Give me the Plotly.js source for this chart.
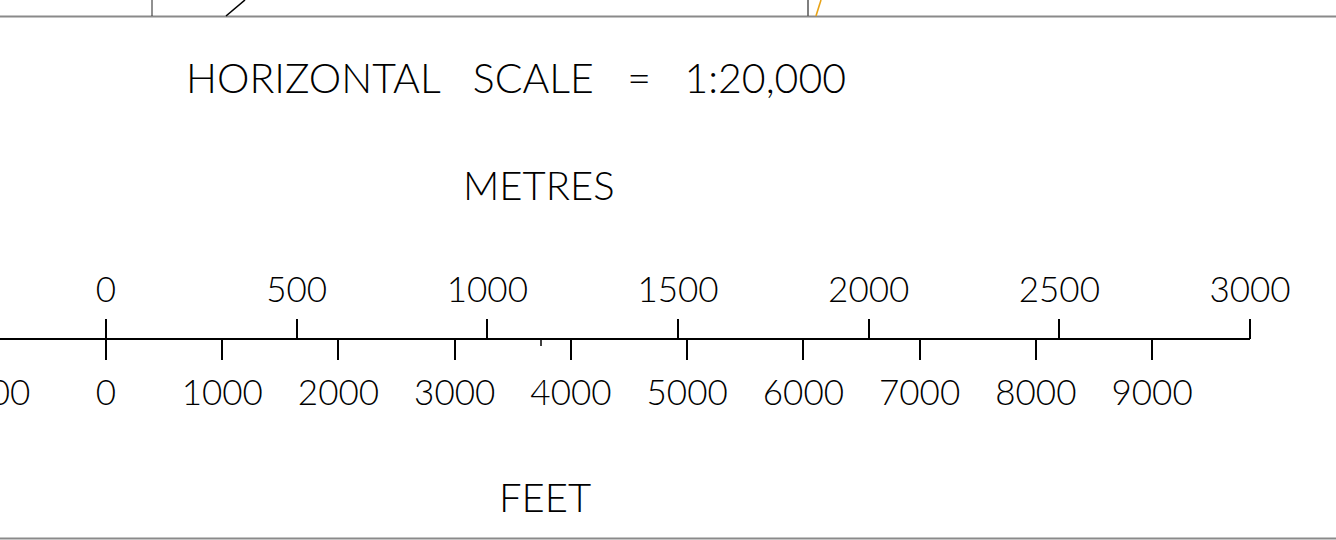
<!DOCTYPE html>
<html>
<head>
<meta charset="utf-8">
<script src="https://cdn.plot.ly/plotly-3.0.1.min.js"></script>
<style>
html,body{margin:0;padding:0;background:#fff;overflow:hidden;width:1336px;height:540px;}
#wrap{position:absolute;left:-100px;top:0;}
#chart{width:1436px;height:540px;}
</style>
</head>
<body>
<div id="wrap"><div id="chart"></div></div>
<script>
// ---- data ----
const metreTicks = [0, 500, 1000, 1500, 2000, 2500, 3000];
const metreLabels = ["0", "500", "1000", "1500", "2000", "2500", "3000"];
const feetTicks = [-1000, 0, 1000, 2000, 3000, 4000, 5000, 6000, 7000, 8000, 9000];
const feetLabels = ["1000", "0", "1000", "2000", "3000", "4000", "5000", "6000", "7000", "8000", "9000"];
const scaleMax = [3000];            // metres at right end of the bar
const metresPerFoot = 0.3048;
const titleText = "HORIZONTAL&nbsp;&nbsp;&nbsp;SCALE&nbsp;&nbsp;&nbsp;=&nbsp;&nbsp;&nbsp;1:20,000";
const unitTop = "METRES";
const unitBottom = "FEET";

// ---- layout helpers ----
const SHIFT = 100, PLOTW = 1350, H = 540;
const pxX = x => (x + SHIFT) / PLOTW;   // page px -> paper x
const pxY = y => 1 - y / H;             // page px -> paper y
const zeroPx = 106, endPx = 1250;
const mPerPx = scaleMax[0] / (endPx - zeroPx);
const mMin = -(zeroPx + SHIFT) * mPerPx;
const mRange = [mMin, scaleMax[0]];
const fRange = mRange.map(v => v / metresPerFoot);
const axisPos = pxY(338.5);

const FONT = "Lato, 'DejaVu Sans', sans-serif";
const tickFont = {family: FONT, size: 35, color: "#000", weight: 300};

const layout = {
  width: 1436, height: 540,
  margin: {l: 0, r: 1436 - PLOTW, t: 0, b: 0, pad: 0},
  paper_bgcolor: "#fff", plot_bgcolor: "rgba(0,0,0,0)",
  showlegend: false,
  xaxis: {
    range: mRange, domain: [0, 1], anchor: "free", position: axisPos, side: "top",
    tickmode: "array", tickvals: metreTicks, ticktext: metreLabels,
    ticks: "outside", ticklen: 20, tickwidth: 2, tickcolor: "#000",
    ticklabelstandoff: 3,
    showline: false, showgrid: false, zeroline: false, tickfont: tickFont, fixedrange: true
  },
  xaxis2: {
    range: fRange, overlaying: "x", anchor: "free", position: axisPos, side: "bottom",
    tickmode: "array", tickvals: feetTicks, ticktext: feetLabels,
    ticks: "outside", ticklen: 20, tickwidth: 2, tickcolor: "#000",
    ticklabelstandoff: 3,
    showline: true, linecolor: "#000", linewidth: 2,
    showgrid: false, zeroline: false, tickfont: tickFont, fixedrange: true
  },
  yaxis: {range: [0, 1], domain: [0, 1], visible: false, fixedrange: true},
  annotations: [
    {text: titleText, xref: "paper", yref: "paper", x: pxX(516), y: pxY(77), xanchor: "center", yanchor: "middle",
     showarrow: false, font: {family: FONT, size: 41, color: "#000", weight: 300}},
    {text: unitTop, xref: "paper", yref: "paper", x: pxX(539), y: pxY(185), xanchor: "center", yanchor: "middle",
     showarrow: false, font: {family: FONT, size: 40, color: "#000", weight: 300}},
    {text: unitBottom, xref: "paper", yref: "paper", x: pxX(545), y: pxY(497), xanchor: "center", yanchor: "middle",
     showarrow: false, font: {family: FONT, size: 40, color: "#000", weight: 300}}
  ],
  shapes: [
    // map frame remnants
    {type: "line", xref: "paper", yref: "paper", x0: pxX(0), x1: pxX(1336), y0: pxY(16.5), y1: pxY(16.5), line: {color: "#8a8a8a", width: 2}},
    {type: "line", xref: "paper", yref: "paper", x0: pxX(0), x1: pxX(1336), y0: pxY(538.5), y1: pxY(538.5), line: {color: "#8a8a8a", width: 2}},
    {type: "line", xref: "paper", yref: "paper", x0: pxX(152), x1: pxX(152), y0: pxY(0), y1: pxY(16), line: {color: "#222", width: 1}},
    {type: "line", xref: "paper", yref: "paper", x0: pxX(808), x1: pxX(808), y0: pxY(0), y1: pxY(16), line: {color: "#555", width: 1.5}},
    {type: "line", xref: "paper", yref: "paper", x0: pxX(226), x1: pxX(245), y0: pxY(16), y1: pxY(0), line: {color: "#000", width: 1.6}},
    {type: "line", xref: "paper", yref: "paper", x0: pxX(816), x1: pxX(821), y0: pxY(16), y1: pxY(0), line: {color: "#e8a317", width: 1.6}},
    // small stray tick under the bar
    {type: "line", xref: "paper", yref: "paper", x0: pxX(541), x1: pxX(541), y0: pxY(338.5), y1: pxY(346), line: {color: "#000", width: 1.5}}
  ]
};

const data = [
  {type: "scatter", x: [], y: [], xaxis: "x", yaxis: "y", hoverinfo: "skip"},
  {type: "scatter", x: [], y: [], xaxis: "x2", yaxis: "y", hoverinfo: "skip"}
];

Plotly.newPlot("chart", data, layout, {displayModeBar: false, staticPlot: true});
</script>
</body>
</html>
